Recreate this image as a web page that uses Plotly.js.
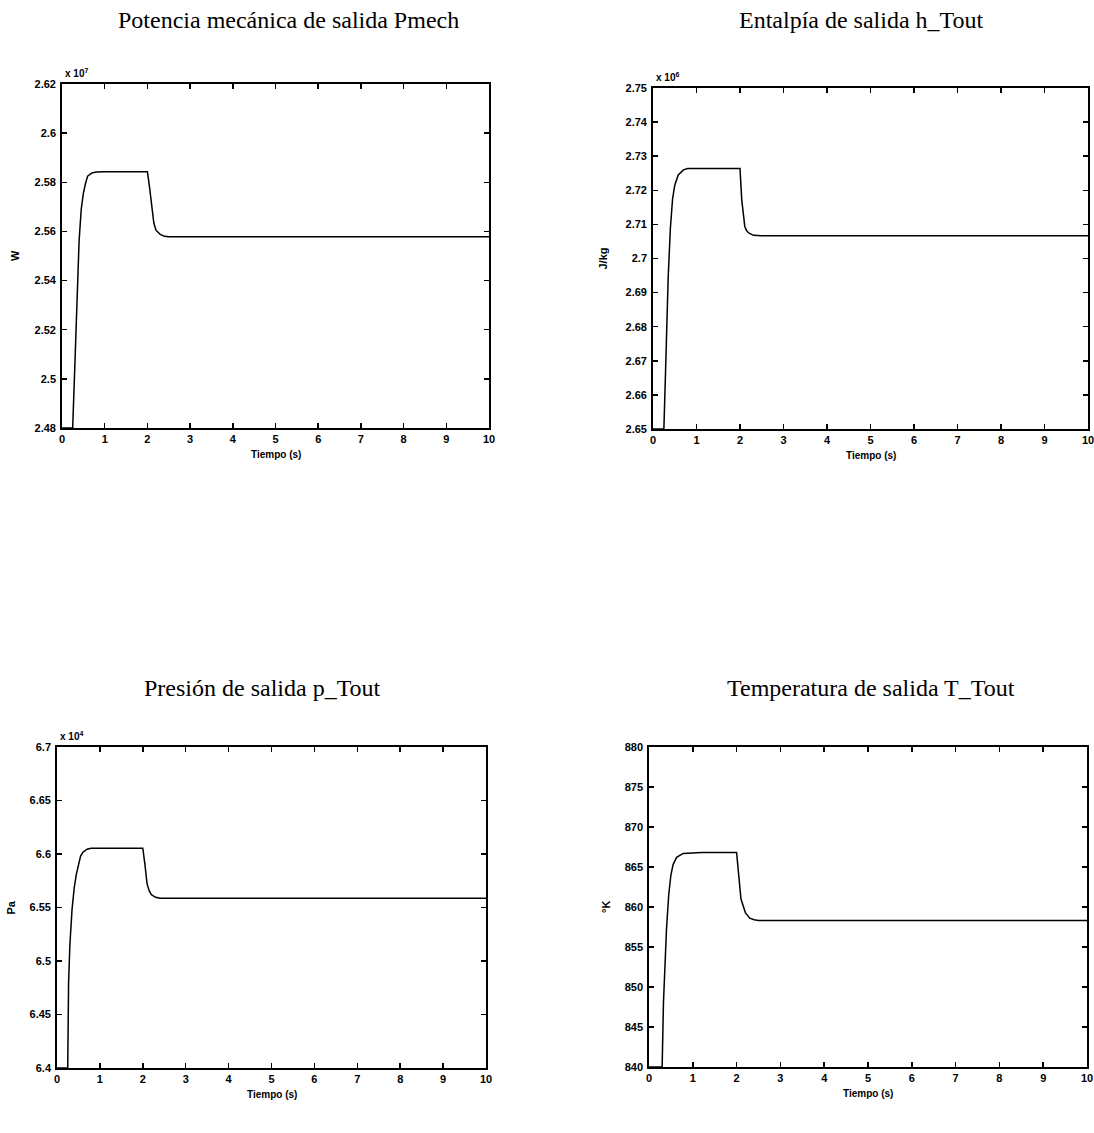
<!DOCTYPE html>
<html>
<head>
<meta charset="utf-8">
<script src="https://cdn.plot.ly/plotly-3.0.1.min.js"></script>
<style>html,body{margin:0;padding:0;background:#fff;} #chart{width:1094px;height:1133px;}</style>
</head>
<body>
<div id="chart"></div>
<script>
// ---- DATA ----
const timeTicks = [0,1,2,3,4,5,6,7,8,9,10];

// Potencia mecánica (x 10^7 W)
const tPmech = [0, 0.25, 0.3, 0.35, 0.4, 0.45, 0.5, 0.55, 0.6, 0.7, 0.8, 1.0, 1.5, 2.0, 2.05, 2.1, 2.15, 2.2, 2.3, 2.4, 2.5, 3, 4, 5, 6, 7, 8, 9, 10];
const pmech  = [2.48, 2.48, 2.505, 2.530, 2.556, 2.569, 2.5755, 2.5795, 2.5825, 2.5838, 2.5842, 2.5843, 2.5843, 2.5843, 2.578, 2.570, 2.5635, 2.5605, 2.5588, 2.5580, 2.5578, 2.5578, 2.5578, 2.5578, 2.5578, 2.5578, 2.5578, 2.5578, 2.5578];
const pmechTicks = [2.48, 2.5, 2.52, 2.54, 2.56, 2.58, 2.6, 2.62];
const pmechTickText = ["2.48","2.5","2.52","2.54","2.56","2.58","2.6","2.62"];

// Entalpía (x 10^6 J/kg)
const tH = [0, 0.25, 0.3, 0.35, 0.4, 0.45, 0.5, 0.58, 0.7, 0.8, 1.0, 1.5, 2.0, 2.04, 2.08, 2.11, 2.15, 2.2, 2.31, 2.5, 3, 4, 5, 6, 7, 8, 9, 10];
const hTout = [2.65, 2.65, 2.672, 2.6947, 2.709, 2.7175, 2.7215, 2.7245, 2.726, 2.7264, 2.7264, 2.7264, 2.7264, 2.7172, 2.7118, 2.7094, 2.7082, 2.7075, 2.7068, 2.7067, 2.7067, 2.7067, 2.7067, 2.7067, 2.7067, 2.7067, 2.7067, 2.7067];
const hTicks = [2.65, 2.66, 2.67, 2.68, 2.69, 2.7, 2.71, 2.72, 2.73, 2.74, 2.75];
const hTickText = ["2.65","2.66","2.67","2.68","2.69","2.7","2.71","2.72","2.73","2.74","2.75"];

// Presión (x 10^4 Pa)
const tP = [0, 0.25, 0.27, 0.3, 0.35, 0.4, 0.45, 0.5, 0.55, 0.6, 0.7, 0.8, 1.0, 1.5, 2.0, 2.05, 2.1, 2.15, 2.2, 2.3, 2.4, 2.5, 3, 4, 5, 6, 7, 8, 9, 10];
const pTout = [6.40, 6.40, 6.48, 6.515, 6.548, 6.568, 6.581, 6.591, 6.598, 6.6015, 6.6045, 6.6053, 6.6053, 6.6053, 6.6053, 6.590, 6.572, 6.5655, 6.562, 6.5595, 6.5586, 6.5586, 6.5586, 6.5586, 6.5586, 6.5586, 6.5586, 6.5586, 6.5586, 6.5586];
const pTicks = [6.4, 6.45, 6.5, 6.55, 6.6, 6.65, 6.7];
const pTickText = ["6.4","6.45","6.5","6.55","6.6","6.65","6.7"];

// Temperatura (K)
const tT = [0, 0.3, 0.33, 0.4, 0.45, 0.5, 0.55, 0.63, 0.78, 1.2, 2.0, 2.05, 2.1, 2.2, 2.3, 2.4, 2.5, 3, 4, 5, 6, 7, 8, 9, 10];
const tTout = [840, 840, 848, 857.3, 861.5, 864, 865.3, 866.2, 866.7, 866.8, 866.8, 863.5, 861.0, 859.3, 858.6, 858.4, 858.3, 858.3, 858.3, 858.3, 858.3, 858.3, 858.3, 858.3, 858.3];
const TTicks = [840, 845, 850, 855, 860, 865, 870, 875, 880];
const TTickText = ["840","845","850","855","860","865","870","875","880"];

const titles = ["Potencia mecánica de salida Pmech", "Entalpía de salida h_Tout", "Presión de salida p_Tout", "Temperatura de salida T_Tout"];
const yLabels = ["W", "J/kg", "Pa", "°K"];
const xLabel = "Tiempo (s)";
const exponents = ["x 10<sup>7</sup>", "x 10<sup>6</sup>", "x 10<sup>4</sup>", ""];

// ---- LAYOUT ----
const W = 1094, H = 1133;
const px = x => x / W;
const py = y => 1 - y / H;

// pixel boxes [left, top, right, bottom]
const boxes = [
  [62, 84, 489, 428],
  [653, 88, 1088, 429],
  [57, 747, 486, 1068],
  [649, 747, 1087, 1067]
];
const titlePos = [[288, 20], [861, 20], [262, 688], [871, 688]];
const yLabelX = [15, 602, 10, 606];

const series = [
  {t: tPmech, v: pmech, ticks: pmechTicks, tt: pmechTickText},
  {t: tH, v: hTout, ticks: hTicks, tt: hTickText},
  {t: tP, v: pTout, ticks: pTicks, tt: pTickText},
  {t: tT, v: tTout, ticks: TTicks, tt: TTickText}
];

const tickFont = {family: "Liberation Sans, Arial, sans-serif", size: 11, color: "#000", weight: "bold"};
const traces = [];
const layout = {
  width: W, height: H,
  margin: {l: 0, r: 0, t: 0, b: 0},
  paper_bgcolor: "#fff", plot_bgcolor: "#fff",
  showlegend: false,
  annotations: []
};

series.forEach((s, i) => {
  const n = i === 0 ? "" : String(i + 1);
  const b = boxes[i];
  traces.push({
    x: s.t, y: s.v, type: "scatter", mode: "lines",
    line: {color: "#000", width: 1.5},
    xaxis: "x" + n, yaxis: "y" + n, hoverinfo: "skip"
  });
  const common = {
    showline: true, linecolor: "#000", linewidth: 1.8, mirror: "allticks",
    ticks: "inside", ticklen: 5, tickwidth: 1.5, tickcolor: "#000",
    showgrid: false, zeroline: false, tickfont: tickFont, fixedrange: true,
    ticklabeloverflow: "allow"
  };
  layout["xaxis" + n] = Object.assign({}, common, {
    domain: [px(b[0]), px(b[2])],
    range: [timeTicks[0], timeTicks[timeTicks.length - 1]],
    tickvals: timeTicks, ticktext: timeTicks.map(String),
    anchor: "y" + n, ticklabelstandoff: 0
  });
  layout["yaxis" + n] = Object.assign({}, common, {
    domain: [py(b[3]), py(b[1])],
    range: [s.ticks[0], s.ticks[s.ticks.length - 1]],
    tickvals: s.ticks, ticktext: s.tt,
    anchor: "x" + n, ticklabelstandoff: 2
  });
  const cx = (b[0] + b[2]) / 2;
  // title
  layout.annotations.push({
    text: titles[i], xref: "paper", yref: "paper",
    x: px(titlePos[i][0]), y: py(titlePos[i][1]), xanchor: "center", yanchor: "middle",
    showarrow: false, font: {family: "Liberation Serif, Times New Roman, serif", size: 24, color: "#000"}
  });
  // x label
  layout.annotations.push({
    text: xLabel, xref: "paper", yref: "paper",
    x: px(cx), y: py(b[3] + 26), xanchor: "center", yanchor: "middle",
    showarrow: false, font: {family: "Liberation Sans, Arial, sans-serif", size: 10, color: "#000", weight: "bold"}
  });
  // y label
  layout.annotations.push({
    text: yLabels[i], xref: "paper", yref: "paper", textangle: -90,
    x: px(yLabelX[i]), y: py((b[1] + b[3]) / 2), xanchor: "center", yanchor: "middle",
    showarrow: false, font: {family: "Liberation Sans, Arial, sans-serif", size: 11, color: "#000", weight: "bold"}
  });
  if (exponents[i]) {
    layout.annotations.push({
      text: exponents[i], xref: "paper", yref: "paper",
      x: px(b[0] + 1), y: py(b[1] - 3), xanchor: "left", yanchor: "bottom",
      showarrow: false, font: {family: "Liberation Sans, Arial, sans-serif", size: 10, color: "#000", weight: "bold"}
    });
  }
});

Plotly.newPlot("chart", traces, layout, {staticPlot: true, displayModeBar: false});
</script>
</body>
</html>
